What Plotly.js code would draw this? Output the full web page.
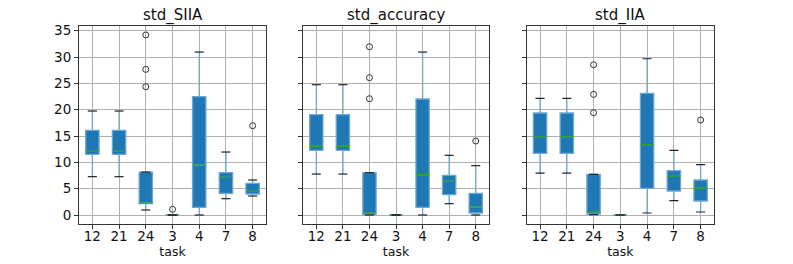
<!DOCTYPE html>
<html><head><meta charset="utf-8">
<script src="https://cdn.plot.ly/plotly-3.0.1.min.js"></script>
<style>html,body{margin:0;padding:0;background:#fff}#chart{width:793px;height:264px}</style>
</head><body><div id="chart"></div>
<script>
const tasks = ["12","21","24","3","4","7","8"];
const panelTitles = ["std_SIIA","std_accuracy","std_IIA"];

// std_SIIA
const siia_low = [7.28, 7.28, 0.95, 0, 0, 3.1, 3.6];
const siia_q1  = [11.5, 11.5, 2.15, 0, 1.46, 4.11, 3.99];
const siia_med = [12.09, 12.09, 2.28, 0, 9.5, 7.15, 4.49];
const siia_q3  = [16.07, 16.07, 8.16, 0, 22.5, 8.04, 6.0];
const siia_high= [19.75, 19.75, 8.16, 0, 30.95, 11.96, 6.65];
const siia_outX = ["24","24","24","3","8"];
const siia_outY = [34.2, 27.66, 24.37, 1.08, 16.96];

// std_accuracy
const acc_low = [7.78, 7.78, 0, 0, 0, 2.15, 0];
const acc_q1  = [12.28, 12.28, 0.06, 0, 1.46, 3.86, 0.38];
const acc_med = [13.04, 13.04, 0.38, 0, 7.66, 6.39, 1.52];
const acc_q3  = [19.05, 19.05, 8.04, 0, 22.03, 7.53, 4.11];
const acc_high= [24.75, 24.75, 8.04, 0, 30.95, 11.33, 9.37];
const acc_outX = ["24","24","24","8"];
const acc_outY = [31.96, 26.08, 22.09, 14.05];

// std_IIA
const iia_low = [7.97, 7.97, 0.06, 0, 0.38, 2.72, 0.57];
const iia_q1  = [11.71, 11.71, 0.19, 0, 5.06, 4.56, 2.66];
const iia_med = [14.87, 14.87, 0.63, 0, 13.35, 7.34, 5.06];
const iia_q3  = [19.37, 19.37, 7.72, 0, 23.1, 8.42, 6.65];
const iia_high= [22.15, 22.15, 7.72, 0, 29.68, 12.28, 9.56];
const iia_outX = ["24","24","24","8"];
const iia_outY = [28.54, 22.91, 19.43, 18.04];

const panels = [
  {low:siia_low,q1:siia_q1,med:siia_med,q3:siia_q3,high:siia_high,ox:siia_outX,oy:siia_outY},
  {low:acc_low,q1:acc_q1,med:acc_med,q3:acc_q3,high:acc_high,ox:acc_outX,oy:acc_outY},
  {low:iia_low,q1:iia_q1,med:iia_med,q3:iia_q3,high:iia_high,ox:iia_outX,oy:iia_outY}
];

const pos = tasks.map((t,i)=>i+1);
const BOXW = 0.5, CAPW = 0.17;
function segs(vals, hw){
  const xs=[], ys=[];
  vals.forEach((v,i)=>{xs.push(pos[i]-hw,pos[i]+hw,null); ys.push(v,v,null);});
  return {xs,ys};
}

const traces=[];
panels.forEach((p,k)=>{
  const xa = k===0?'x':'x'+(k+1), ya = k===0?'y':'y'+(k+1);
  traces.push({type:'box', x:pos, q1:p.q1, median:p.med, q3:p.q3, lowerfence:p.low, upperfence:p.high,
    width:BOXW, whiskerwidth:0, fillcolor:'#1f77b4', line:{color:'#6fa7d4', width:1.3},
    boxpoints:false, xaxis:xa, yaxis:ya, hoverinfo:'skip', showlegend:false});
  const m = segs(p.med, BOXW/2);
  traces.push({type:'scatter', mode:'lines', x:m.xs, y:m.ys, line:{color:'#2ca02c', width:1.2},
    xaxis:xa, yaxis:ya, showlegend:false, hoverinfo:'skip'});
  const cl = segs(p.low, CAPW), ch = segs(p.high, CAPW);
  traces.push({type:'scatter', mode:'lines', x:cl.xs.concat(ch.xs), y:cl.ys.concat(ch.ys), line:{color:'#222', width:1.2},
    xaxis:xa, yaxis:ya, showlegend:false, hoverinfo:'skip'});
  traces.push({type:'scatter', mode:'markers', x:p.ox.map(t=>tasks.indexOf(t)+1), y:p.oy,
    marker:{symbol:'circle-open', size:6, color:'#333', line:{width:1}},
    xaxis:xa, yaxis:ya, showlegend:false, hoverinfo:'skip'});
});

const TF = {family:'DejaVu Sans', size:13.5, color:'#111'};
const LF = {family:'DejaVu Sans', size:12.5, color:'#111'};
const doms = [[0,0.2945],[0.3528,0.6457],[0.705,1]];
const layout = {width:793, height:264, margin:{l:79,r:79,t:26,b:40}, paper_bgcolor:'#fff', plot_bgcolor:'#fff',
  font:TF, showlegend:false, annotations:[]};
doms.forEach((d,k)=>{
  const xn = k===0?'xaxis':'xaxis'+(k+1), yn = k===0?'yaxis':'yaxis'+(k+1);
  layout[xn] = {domain:d, range:[0.5,7.5], tickvals:pos, ticktext:tasks, showgrid:true, gridcolor:'#b0b0b0', gridwidth:1,
    zeroline:false, showline:true, mirror:true, linecolor:'#333', linewidth:1, ticks:'outside', ticklen:4, tickcolor:'#333',
    ticklabelstandoff:-4, tickfont:TF, anchor:k===0?'y':'y'+(k+1),
    title:{text:'task', font:LF, standoff:0}};
  layout[yn] = {domain:[0,1], range:[-1.71,35.9], tickvals:[0,5,10,15,20,25,30,35], showgrid:true, gridcolor:'#b0b0b0', gridwidth:1,
    zeroline:false, showline:true, mirror:true, linecolor:'#333', linewidth:1, ticks:'outside', ticklen:4, tickcolor:'#333',
    showticklabels:k===0, tickfont:TF, anchor:k===0?'x':'x'+(k+1)};
  layout.annotations.push({text:panelTitles[k], xref:'paper', yref:'paper', x:(d[0]+d[1])/2, y:1, yshift:-1,
    xanchor:'center', yanchor:'bottom', showarrow:false, font:{family:'DejaVu Sans', size:15, color:'#111'}});
});
Plotly.newPlot('chart', traces, layout, {displayModeBar:false, staticPlot:true});
</script></body></html>
